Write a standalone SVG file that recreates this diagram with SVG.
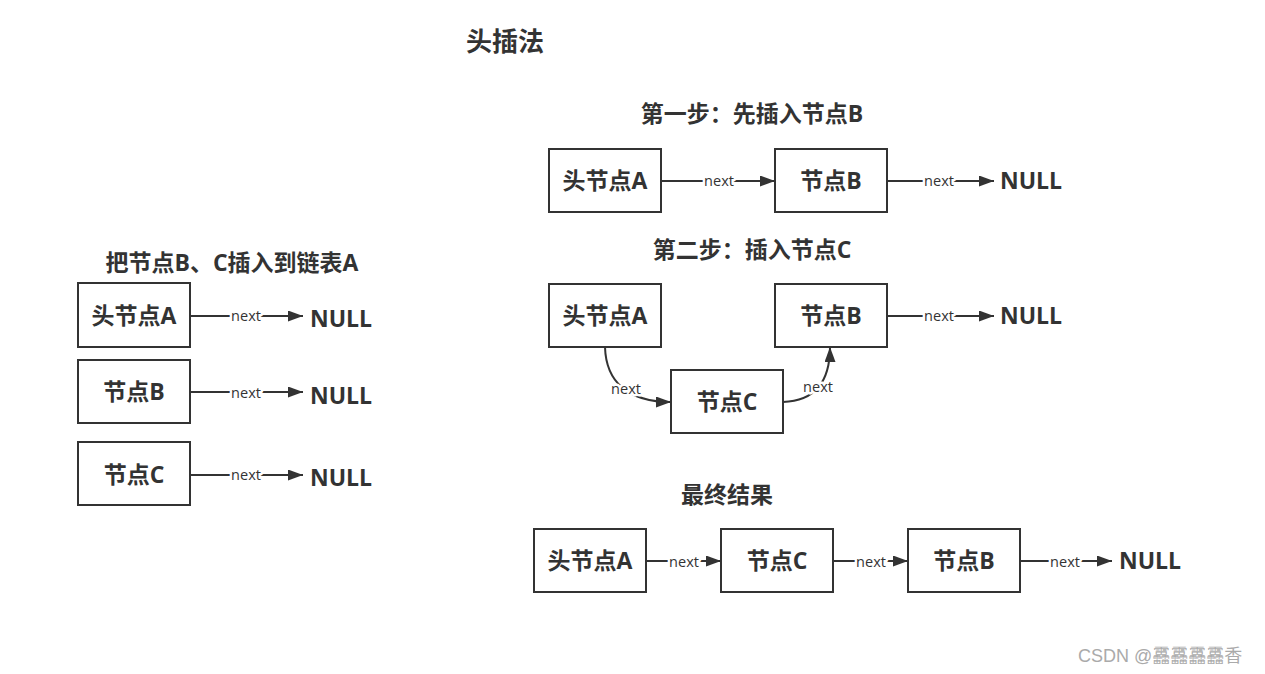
<svg xmlns="http://www.w3.org/2000/svg" width="1265" height="674" viewBox="0 0 1265 674">
<defs>
<marker id="ah" markerUnits="userSpaceOnUse" markerWidth="17" markerHeight="12" refX="15" refY="5.5" orient="auto">
<path d="M0,0 L15,5.5 L0,11 z" fill="#333"/>
</marker>
<style>
.bx{fill:#fff;stroke:#333;stroke-width:2}
.nl{font-family:"Open Sans","Noto Sans CJK SC",sans-serif;font-weight:bold;font-size:23px;fill:#333;text-anchor:middle;dominant-baseline:central}
.ti{font-family:"Open Sans","Noto Sans CJK SC",sans-serif;font-weight:bold;font-size:23px;fill:#333;text-anchor:middle;dominant-baseline:central}
.null{font-family:"Open Sans","Noto Sans CJK SC",sans-serif;font-weight:bold;font-size:23px;fill:#333;dominant-baseline:central}
.ln{fill:none;stroke:#333;stroke-width:2;marker-end:url(#ah)}
.nx{font-family:"Open Sans","Noto Sans CJK SC",sans-serif;font-size:14.5px;fill:#333;text-anchor:middle;dominant-baseline:central;stroke:#fff;stroke-width:5px;paint-order:stroke;stroke-linejoin:round}
.wm{font-family:"Liberation Sans","Noto Sans CJK SC",sans-serif;font-size:18px;fill:#aaa}
</style>
</defs>
<rect width="1265" height="674" fill="#fff"/>

<g id="titles">
<text class="ti" x="505" y="41" style="font-size:26px">头插法</text>
<text class="ti" x="752" y="113">第一步：先插入节点B</text>
<text class="ti" x="752" y="249">第二步：插入节点C</text>
<text class="ti" x="232" y="262">把节点B、C插入到链表A</text>
<text class="ti" x="727" y="494">最终结果</text>
</g>

<g id="connectors">
<line class="ln" x1="190" y1="316" x2="303" y2="316"/>
<text class="nx" x="246" y="315">next</text>
<line class="ln" x1="190" y1="392" x2="303" y2="392"/>
<text class="nx" x="246" y="392">next</text>
<line class="ln" x1="190" y1="475" x2="303" y2="475"/>
<text class="nx" x="246" y="474">next</text>
<line class="ln" x1="661" y1="181" x2="775" y2="181"/>
<text class="nx" x="719" y="180">next</text>
<line class="ln" x1="887" y1="181" x2="994" y2="181"/>
<text class="nx" x="939" y="180">next</text>
<line class="ln" x1="887" y1="316" x2="994" y2="316"/>
<text class="nx" x="939" y="315">next</text>
<path class="ln" d="M605,347 C606,382 628,402 671,402"/>
<text class="nx" x="626" y="388">next</text>
<path class="ln" d="M783,402 C812,401 830,385 830,347"/>
<text class="nx" x="818" y="386">next</text>
<line class="ln" x1="646" y1="561" x2="721" y2="561"/>
<text class="nx" x="684" y="561">next</text>
<line class="ln" x1="833" y1="561" x2="908" y2="561"/>
<text class="nx" x="871" y="561">next</text>
<line class="ln" x1="1020" y1="561" x2="1112" y2="561"/>
<text class="nx" x="1065" y="561">next</text>
</g>

<g id="left-A"><rect class="bx" x="78" y="283" width="112" height="64"/><text class="nl" x="134" y="315">头节点A</text></g>
<g id="left-B"><rect class="bx" x="78" y="360" width="112" height="63"/><text class="nl" x="134" y="391">节点B</text></g>
<g id="left-C"><rect class="bx" x="78" y="442" width="112" height="63"/><text class="nl" x="134" y="474">节点C</text></g>
<g id="left-null"><text class="null" x="310" y="318">NULL</text><text class="null" x="310" y="395">NULL</text><text class="null" x="310" y="477">NULL</text></g>

<g id="s1-A"><rect class="bx" x="549" y="149" width="112" height="63"/><text class="nl" x="605" y="180">头节点A</text></g>
<g id="s1-B"><rect class="bx" x="775" y="149" width="112" height="63"/><text class="nl" x="831" y="180">节点B</text></g>
<g id="s1-null"><text class="null" x="1000" y="180">NULL</text></g>

<g id="s2-A"><rect class="bx" x="549" y="284" width="112" height="63"/><text class="nl" x="605" y="315">头节点A</text></g>
<g id="s2-B"><rect class="bx" x="775" y="284" width="112" height="63"/><text class="nl" x="831" y="315">节点B</text></g>
<g id="s2-C"><rect class="bx" x="671" y="370" width="112" height="63"/><text class="nl" x="727" y="401">节点C</text></g>
<g id="s2-null"><text class="null" x="1000" y="315">NULL</text></g>

<g id="f-A"><rect class="bx" x="534" y="529" width="112" height="63"/><text class="nl" x="590" y="560">头节点A</text></g>
<g id="f-C"><rect class="bx" x="721" y="529" width="112" height="63"/><text class="nl" x="777" y="560">节点C</text></g>
<g id="f-B"><rect class="bx" x="908" y="529" width="112" height="63"/><text class="nl" x="964" y="560">节点B</text></g>
<g id="f-null"><text class="null" x="1119" y="560">NULL</text></g>

<g id="watermark"><text class="wm" x="1078" y="662">CSDN @靐靐靐靐香</text></g>
</svg>
